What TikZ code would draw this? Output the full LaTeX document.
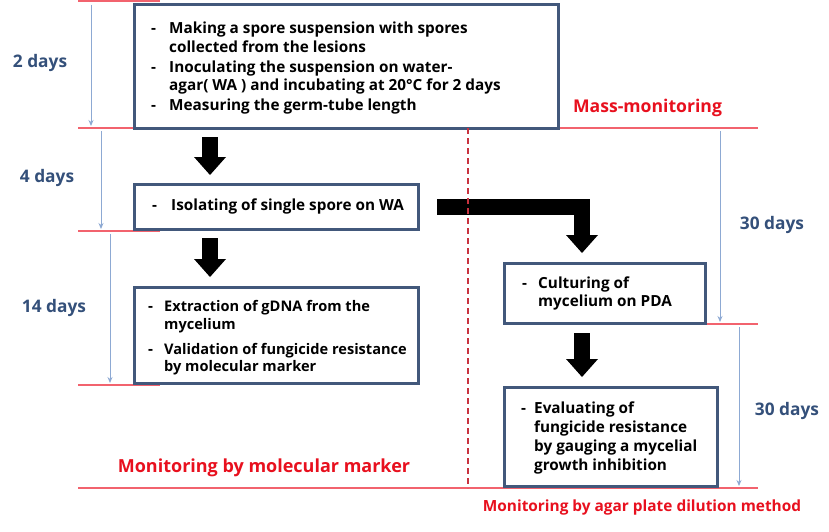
\documentclass[tikz,border=0pt]{standalone}
\usepackage{fontspec}
\setmainfont{Open Sans}
\usetikzlibrary{arrows.meta}
\definecolor{boxc}{HTML}{42587B}
\definecolor{redline}{HTML}{F2636E}
\definecolor{reddash}{HTML}{C8323F}
\definecolor{redtxt}{HTML}{E8101E}
\definecolor{bluetxt}{HTML}{34507A}
\definecolor{bluearr}{HTML}{8DA9D3}
\begin{document}
\begin{tikzpicture}[x=1pt,y=-1pt,
  box/.style={draw=boxc, line width=3pt, fill=white, inner sep=0pt},
  txt/.style={anchor=base west, inner sep=0pt, font=\fontsize{15.3}{18}\selectfont\bfseries},
  txtn/.style={anchor=base west, inner sep=0pt, font=\fontsize{14.6}{18}\selectfont\bfseries},
  dashmark/.style={anchor=base west, inner sep=0pt, font=\fontsize{15.3}{18}\selectfont\bfseries},
  daylabel/.style={inner sep=0pt, text=bluetxt, font=\fontsize{17.3}{20}\selectfont\bfseries},
  redlabel/.style={inner sep=0pt, text=redtxt, font=\fontsize{17.6}{20}\selectfont\bfseries},
  hline/.style={draw=redline, line width=1.2pt},
  timearrow/.style={draw=bluearr, line width=0.9pt, -{Stealth[length=6pt,width=5pt]}},
  blk/.style={draw=black, line width=16pt, line join=miter,
     -{Triangle[width=32pt,length=18pt,line width=0pt]}},
]
\useasboundingbox (0,0) rectangle (829,532);
\fill[white] (0,0) rectangle (829,532);

% red horizontal lines
\coordinate (L0a) at (78,1);   \coordinate (L0b) at (160,1);
\coordinate (L1a) at (78,128); \coordinate (L1b) at (160,128);
\coordinate (L1c) at (558,128); \coordinate (L1d) at (758,128);
\coordinate (L2a) at (78,231); \coordinate (L2b) at (160,231);
\coordinate (L3a) at (78,385); \coordinate (L3b) at (160,385);
\coordinate (L4a) at (677,324); \coordinate (L4b) at (758,324);
\coordinate (L5a) at (78,488); \coordinate (L5b) at (758,488);
\draw[hline] (L0a) -- (L0b);
\draw[hline] (L1a) -- (L1b);
\draw[hline] (L1c) -- (L1d);
\draw[hline] (L2a) -- (L2b);
\draw[hline] (L3a) -- (L3b);
\draw[hline] (L4a) -- (L4b);
\draw[hline] (L5a) -- (L5b);

% boxes
\node[box, minimum width=424pt, minimum height=123pt] (b1) at (346,66.5) {};
\node[box, minimum width=284pt, minimum height=45pt] (b2) at (276,206.5) {};
\node[box, minimum width=284pt, minimum height=96pt] (b3) at (276,335) {};
\node[box, minimum width=201pt, minimum height=60pt] (b4) at (604.5,293) {};
\node[box, minimum width=213pt, minimum height=99pt] (b5) at (610.5,436.5) {};

% box 1 text
\node[dashmark] (d1a) at (151,34) {-};
\node[txt] (t1a) at (169,34) {Making a spore suspension with spores};
\node[txt] (t1b) at (169,52.5) {collected from the lesions};
\node[dashmark] (d1b) at (151,72.5) {-};
\node[txt] (t1c) at (169,72.5) {Inoculating the suspension on water-};
\node[txt] (t1d) at (169,91) {agar( WA ) and incubating at 20°C for 2 days};
\node[dashmark] (d1c) at (151,110.5) {-};
\node[txt] (t1e) at (169,110.5) {Measuring the germ-tube length};

% box 2 text
\node[dashmark] (d2a) at (152,210.5) {-};
\node[txt] (t2a) at (171,210.5) {Isolating of single spore on WA};

% box 3 text
\node[dashmark] (d3a) at (148,311.5) {-};
\node[txtn] (t3a) at (164,311.5) {Extraction of gDNA from the};
\node[txtn] (t3b) at (164,329) {mycelium};
\node[dashmark] (d3b) at (148,354) {-};
\node[txtn] (t3c) at (164,354) {Validation of fungicide resistance};
\node[txtn] (t3d) at (164,371) {by molecular marker};

% box 4 text
\node[dashmark] (d4a) at (522,288.5) {-};
\node[txt] (t4a) at (538,288.5) {Culturing of};
\node[txt] (t4b) at (538,306.5) {mycelium on PDA};

% box 5 text
\node[dashmark] (d5a) at (521,413.5) {-};
\node[txt] (t5a) at (534,413.5) {Evaluating of};
\node[txt] (t5b) at (534,432) {fungicide resistance};
\node[txt] (t5c) at (534,451.5) {by gauging a mycelial};
\node[txt] (t5d) at (534,470) {growth inhibition};

% day labels
\node[daylabel] (l2) at (40,63) {2 days};
\node[daylabel] (l4) at (47,178) {4 days};
\node[daylabel] (l14) at (54,308) {14 days};
\node[daylabel] (l30a) at (772,225) {30 days};
\node[daylabel] (l30b) at (787,411) {30 days};

% red labels
\node[redlabel] (mm) at (647.5,108) {Mass-monitoring};
\node[redlabel, font=\fontsize{18}{21}\selectfont\bfseries] (mmm) at (264,468) {Monitoring by molecular marker};
\node[redlabel, font=\fontsize{15.4}{18}\selectfont\bfseries] (mad) at (642,507) {Monitoring by agar plate dilution method};

% time arrows
\coordinate (ta1) at (91,5);   \coordinate (tb1) at (91,126);
\coordinate (ta2) at (101,131); \coordinate (tb2) at (101,229);
\coordinate (ta3) at (110,234); \coordinate (tb3) at (110,383);
\coordinate (ta4) at (720,131); \coordinate (tb4) at (720,322);
\coordinate (ta5) at (739,327); \coordinate (tb5) at (739,486);
\draw[timearrow] (ta1) -- (tb1);
\draw[timearrow] (ta2) -- (tb2);
\draw[timearrow] (ta3) -- (tb3);
\draw[timearrow] (ta4) -- (tb4);
\draw[timearrow] (ta5) -- (tb5);

% block arrows
\coordinate (ax1) at (210,0);
\coordinate (ax2) at (582,0);
\draw[blk, shorten <=7.5pt, shorten >=7.5pt] (b1.south -| ax1) -- (b2.north -| ax1);
\draw[blk, shorten <=7.5pt, shorten >=8.5pt] (b2.south -| ax1) -- (b3.north -| ax1);
\draw[blk, shorten <=17.5pt, shorten >=8.5pt] (b2.east) -- (b2.east -| ax2) -- (b4.north -| ax2);
\draw[blk, shorten <=8.5pt, shorten >=8.5pt] (b4.south -| ax2) -- (b5.north -| ax2);

% dashed divider
\coordinate (dv1) at (468,128); \coordinate (dv2) at (468,488);
\draw[draw=reddash, line width=2pt, dash pattern=on 6pt off 4pt] (dv1) -- (dv2);
\end{tikzpicture}
\end{document}
